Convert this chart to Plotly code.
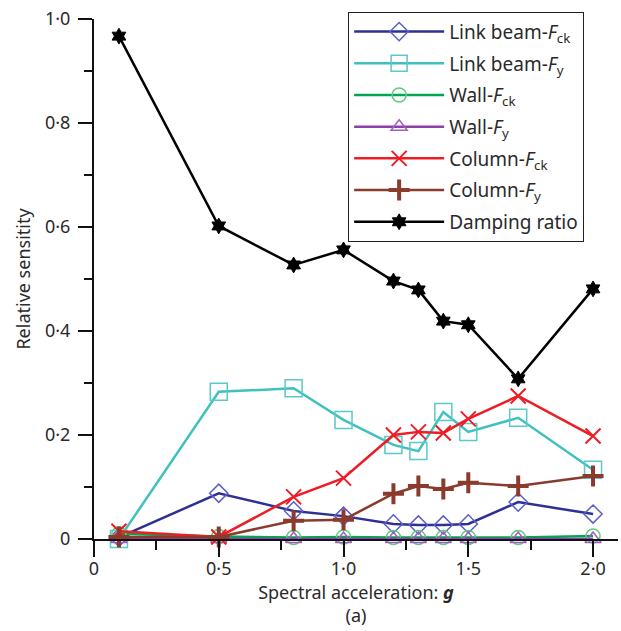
import plotly.graph_objects as go

sa = [0.1, 0.5, 0.8, 1.0, 1.2, 1.3, 1.4, 1.5, 1.7, 2.0]

link_beam_fck = [0.003, 0.088, 0.054, 0.044, 0.029, 0.027, 0.027, 0.029, 0.071, 0.048]
link_beam_fy = [0.0, 0.283, 0.290, 0.229, 0.181, 0.169, 0.244, 0.206, 0.233, 0.133]
wall_fck = [0.010, 0.005, 0.003, 0.004, 0.003, 0.003, 0.003, 0.003, 0.003, 0.006]
wall_fy = [0.0, 0.0, 0.0, 0.0, 0.0, 0.0, 0.0, 0.0, 0.0, 0.0]
column_fck = [0.015, 0.004, 0.081, 0.117, 0.200, 0.206, 0.204, 0.231, 0.275, 0.198]
column_fy = [0.004, 0.004, 0.035, 0.037, 0.087, 0.102, 0.096, 0.108, 0.102, 0.121]
damping = [0.967, 0.602, 0.527, 0.556, 0.496, 0.479, 0.419, 0.412, 0.308, 0.481]

names = [
    "Link beam-<i>F</i><sub>ck</sub>",
    "Link beam-<i>F</i><sub>y</sub>",
    "Wall-<i>F</i><sub>ck</sub>",
    "Wall-<i>F</i><sub>y</sub>",
    "Column-<i>F</i><sub>ck</sub>",
    "Column-<i>F</i><sub>y</sub>",
    "Damping ratio",
]

y_ticks = [0, 0.2, 0.4, 0.6, 0.8, 1.0]
y_ticktext = ["0", "0·2", "0·4", "0·6", "0·8", "1·0"]
x_ticks = [0, 0.5, 1.0, 1.5, 2.0]
x_ticktext = ["0", "0·5", "1·0", "1·5", "2·0"]

series = [link_beam_fck, link_beam_fy, wall_fck, wall_fy, column_fck, column_fy, damping]
styles = [
    dict(lc="#2E3192", mc="#5B5FC7", sym="diamond-open", size=14, w=1.5),
    dict(lc="#3FC1C0", mc="#5CC8C8", sym="square-open", size=17, w=1.5),
    dict(lc="#00A651", mc="#5FCB7F", sym="circle-open", size=14, w=1.5),
    dict(lc="#8E3FA8", mc="#A060C0", sym="triangle-up-open", size=14, w=1.5),
    dict(lc="#EE1C25", mc="#EE1C25", sym="x-thin-open", size=15, w=2),
    dict(lc="#8B3A2E", mc="#8B3A2E", sym="cross-thin-open", size=15, w=4),
    dict(lc="#000000", mc="#000000", sym="hexagram", size=12, w=1),
]

fig = go.Figure()
for i, (name, ys, st) in enumerate(zip(names, series, styles)):
    fig.add_trace(go.Scatter(
        x=sa, y=ys, name=name, mode="lines+markers",
        legendgroup=f"g{i}",
        line=dict(color=st["lc"], width=2.5),
        marker=dict(symbol=st["sym"], size=st["size"], color=st["mc"],
                    line=dict(color=st["mc"], width=st["w"])),
        cliponaxis=False,
    ))

font_family = "Noto Sans, Open Sans, sans-serif"
fig.update_layout(
    width=621, height=631,
    margin=dict(l=94, r=3, t=19, b=92),
    plot_bgcolor="white", paper_bgcolor="white",
    font=dict(family=font_family, size=18, color="#2a2a2a"),
    showlegend=True,
    legend=dict(
        x=0.485, y=1.014, xanchor="left", yanchor="top",
        bordercolor="#222222", borderwidth=1, bgcolor="white",
        font=dict(size=19, color="#2a2a2a"),
        tracegroupgap=4, itemwidth=90,
    ),
    xaxis=dict(
        range=[0, 2.1], showgrid=False, zeroline=False,
        showline=True, linecolor="#111111", linewidth=2,
        ticks="outside", ticklen=16, tickwidth=2, tickcolor="#111111",
        tickvals=x_ticks, ticktext=x_ticktext, ticklabelstandoff=-4,
        minor=dict(ticks="outside", ticklen=9, tickwidth=2, tickcolor="#111111",
                   tickvals=[0.25, 0.75, 1.25, 1.75]),
        title=dict(text="Spectral acceleration: <b><i>g</i></b><br>(a)", standoff=4,
                   font=dict(size=18)),
    ),
    yaxis=dict(
        range=[0, 1.0], showgrid=False, zeroline=False,
        showline=True, linecolor="#111111", linewidth=2,
        ticks="outside", ticklen=14, tickwidth=2, tickcolor="#111111",
        tickvals=y_ticks, ticktext=y_ticktext, ticklabelstandoff=4,
        minor=dict(ticks="outside", ticklen=8, tickwidth=2, tickcolor="#111111",
                   tickvals=[0.1, 0.3, 0.5, 0.7, 0.9]),
        title=dict(text="Relative sensitity", standoff=10, font=dict(size=18)),
    ),
)

fig.write_html("out.html")
